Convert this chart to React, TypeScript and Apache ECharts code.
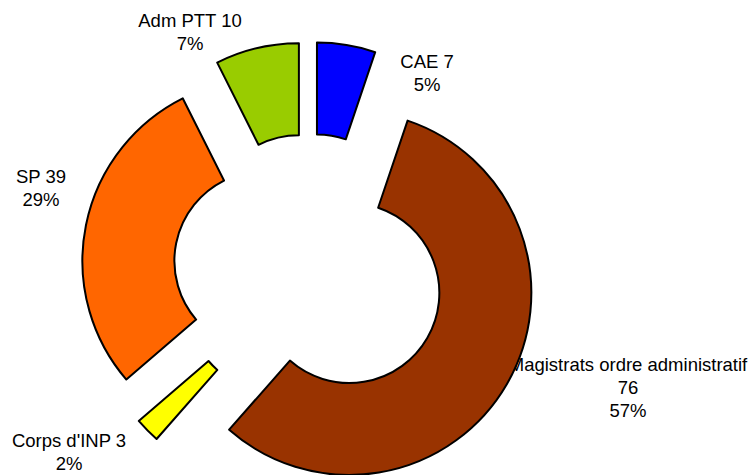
import React, { useEffect, useRef } from "react";
import * as echarts from "echarts";

const categories = ["CAE", "Magistrats ordre administratif", "Corps d'INP", "SP", "Adm PTT"];
const values = [7, 76, 3, 39, 10];
const percents = [5, 57, 2, 29, 7];
const colors = ["#0000FF", "#993300", "#FFFF00", "#FF6600", "#99CC00"];
// label block centres (layout, not data)
const labelCenters: [number, number][] = [
  [427, 73],
  [628, 387],
  [69, 452],
  [41, 188],
  [190, 32],
];

function labelText(i: number) {
  const n = categories[i];
  const head = n.length > 20 ? `${n}\n${values[i]}` : `${n} ${values[i]}`;
  return `${head}\n${percents[i]}%`;
}

export default function App() {
  const ref = useRef<HTMLDivElement>(null);
  useEffect(() => {
    if (!ref.current) return;
    const chart = echarts.init(ref.current, null, { renderer: "svg" });
    chart.setOption({
      animation: false,
      backgroundColor: "#ffffff",
      series: [
        {
          type: "pie",
          center: [309.5, 270],
          radius: [90, 182],
          startAngle: 90,
          clockwise: true,
          selectedMode: "multiple",
          selectedOffset: 46,
          avoidLabelOverlap: false,
          emphasis: { disabled: true },
          itemStyle: { borderColor: "#000000", borderWidth: 2 },
          label: { show: false },
          labelLine: { show: false },
          data: categories.map((name, i) => ({
            name,
            value: values[i],
            selected: true,
            itemStyle: { color: colors[i] },
            select: { itemStyle: { color: colors[i], borderColor: "#000000", borderWidth: 2 } },
          })),
        },
      ],
      graphic: categories.map((_, i) => ({
        type: "text",
        x: labelCenters[i][0],
        y: labelCenters[i][1],
        silent: true,
        style: {
          text: labelText(i),
          fill: "#000000",
          fontFamily: "Liberation Sans, Arial, sans-serif",
          fontSize: 18.5,
          lineHeight: 23,
          align: "center",
          verticalAlign: "middle",
        },
      })),
    });
    return () => chart.dispose();
  }, []);
  return (
    <div
      ref={ref}
      style={{ position: "absolute", left: 0, top: 0, width: 753, height: 475 }}
    />
  );
}
